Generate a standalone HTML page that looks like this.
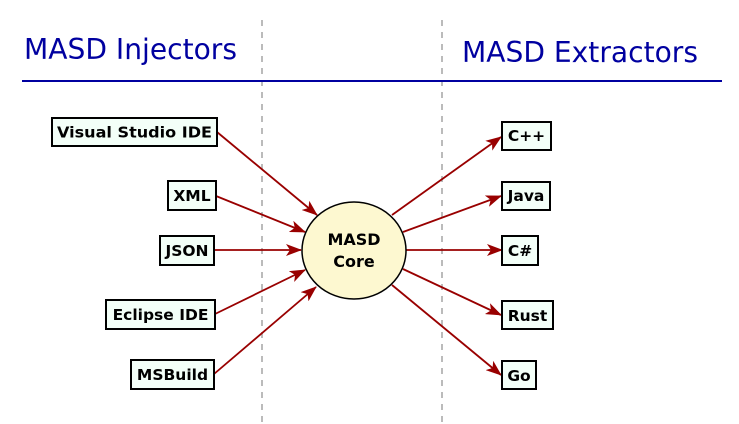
<!DOCTYPE html>
<html><head><style>body{margin:0;background:#fff}svg{display:block}</style></head><body>
<svg width="739" height="424" xmlns="http://www.w3.org/2000/svg" font-family="DejaVu Sans, Liberation Sans, sans-serif">
<defs><marker id="a" markerWidth="16" markerHeight="12" refX="15" refY="6" orient="auto" markerUnits="userSpaceOnUse"><path d="M0,0 L16,6 L0,12 L4,6 Z" fill="#990000"/></marker></defs>
<line x1="262" y1="20" x2="262" y2="422" stroke="#bbb" stroke-width="2" stroke-dasharray="6,6"/>
<line x1="442" y1="20" x2="442" y2="422" stroke="#bbb" stroke-width="2" stroke-dasharray="6,6"/>
<text x="24" y="59" font-size="28.5" fill="#0000a0" textLength="213" lengthAdjust="spacingAndGlyphs">MASD Injectors</text>
<text x="462" y="62" font-size="28.5" fill="#0000a0" textLength="236" lengthAdjust="spacingAndGlyphs">MASD Extractors</text>
<line x1="22" y1="81" x2="722" y2="81" stroke="#0000a0" stroke-width="2"/>
<g stroke="#990000" stroke-width="1.8" fill="none" marker-end="url(#a)">
<line x1="217" y1="132" x2="317" y2="215"/>
<line x1="216" y1="196" x2="305" y2="232"/>
<line x1="214" y1="250" x2="301" y2="250"/>
<line x1="215" y1="314" x2="305" y2="270"/>
<line x1="214" y1="374" x2="316" y2="287"/>
<line x1="392" y1="215" x2="501" y2="137"/>
<line x1="403" y1="232" x2="501" y2="196"/>
<line x1="406" y1="250" x2="502" y2="250"/>
<line x1="403" y1="269" x2="501" y2="315"/>
<line x1="392" y1="285" x2="501" y2="375"/>
</g>
<ellipse cx="354" cy="250.5" rx="52" ry="48.5" fill="#fdf8d0" stroke="#000" stroke-width="1.5"/>
<g font-size="16" font-weight="bold" text-anchor="middle">
<text x="354" y="245">MASD</text><text x="354" y="267">Core</text>
</g>
<g fill="#f3fff8" stroke="#000" stroke-width="2">
<rect x="52" y="118" width="165" height="28"/>
<rect x="168" y="181" width="48" height="29"/>
<rect x="160" y="236" width="54" height="29"/>
<rect x="106" y="300" width="109" height="29"/>
<rect x="131" y="360" width="83" height="29"/>
<rect x="502" y="122" width="49" height="28"/>
<rect x="502" y="182" width="48" height="28"/>
<rect x="502" y="236" width="36" height="29"/>
<rect x="502" y="301" width="51" height="28"/>
<rect x="502" y="361" width="34" height="28"/>
</g>
<g font-size="15.5" font-weight="bold" text-anchor="middle">
<text x="134.5" y="137.5" textLength="155" lengthAdjust="spacingAndGlyphs">Visual Studio IDE</text>
<text x="192" y="201">XML</text>
<text x="187" y="256">JSON</text>
<text x="160.5" y="320">Eclipse IDE</text>
<text x="172.5" y="380">MSBuild</text>
<text x="526.5" y="141">C++</text>
<text x="526" y="201">Java</text>
<text x="520" y="256">C#</text>
<text x="527.5" y="321">Rust</text>
<text x="519" y="381">Go</text>
</g>
</svg>
</body></html>
